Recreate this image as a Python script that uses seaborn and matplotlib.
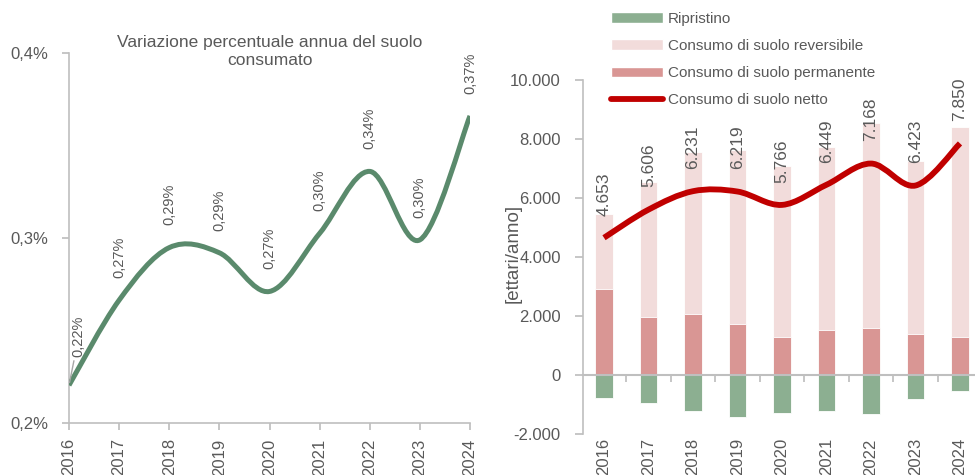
import numpy as np
import pandas as pd
import seaborn as sns
import matplotlib
matplotlib.use("Agg")
import matplotlib.pyplot as plt
from matplotlib.path import Path
from matplotlib.patches import PathPatch, Patch
from matplotlib.lines import Line2D
from matplotlib.ticker import FuncFormatter

# dati
anni = [2016, 2017, 2018, 2019, 2020, 2021, 2022, 2023, 2024]
var_perc = [0.2204, 0.2664, 0.2948, 0.2920, 0.2711, 0.3025, 0.3360, 0.2990, 0.3660]

ripristino = [-780, -939, -1231, -1424, -1288, -1210, -1322, -814, -542]
permanente = [2915, 1966, 2068, 1729, 1298, 1525, 1593, 1390, 1298]
reversibile = [2543, 4587, 5481, 5911, 5798, 6193, 6949, 5875, 7120]
netto = [4653, 5606, 6231, 6219, 5766, 6449, 7168, 6423, 7850]

GRIGIO = "#595959"
ASSE = "#BFBFBF"
VERDE_LINEA = "#5A8A6C"
VERDE_BAR = "#8CAF91"
ROSA_CHIARO = "#F2DCDB"
ROSA_SCURO = "#D99694"
ROSSO = "#C00000"

sns.set_theme(style="white")
plt.rcParams["font.family"] = ["Liberation Sans", "DejaVu Sans"]
plt.rcParams["axes.unicode_minus"] = False


def curva_smussata(xs, ys):
    # curva tipo Excel (Bezier con tangenti Catmull-Rom) che passa per i punti dati
    pts = np.column_stack([xs, ys]).astype(float)
    n = len(pts)
    verts = [pts[0]]
    codes = [Path.MOVETO]
    for i in range(n - 1):
        p0 = pts[max(i - 1, 0)]
        p1 = pts[i]
        p2 = pts[i + 1]
        p3 = pts[min(i + 2, n - 1)]
        verts += [p1 + (p2 - p0) / 6, p2 - (p3 - p1) / 6, p2]
        codes += [Path.CURVE4] * 3
    return Path(verts, codes)


fig = plt.figure(figsize=(9.75, 4.75), dpi=100)

# ---- grafico di sinistra
ax1 = fig.add_axes([69 / 975, 1 - 423 / 475, (470 - 69) / 975, (423 - 53) / 475])
ax1.add_patch(PathPatch(curva_smussata(anni, var_perc), facecolor="none",
                        edgecolor=VERDE_LINEA, lw=3.6, capstyle="butt", zorder=3))
ax1.set_xlim(2016, 2024)
ax1.set_ylim(0.2, 0.4)
ax1.set_yticks([0.2, 0.3, 0.4])
ax1.set_xticks(anni)
ax1.yaxis.set_major_formatter(FuncFormatter(lambda v, p: f"{v:.1f}%".replace(".", ",")))
for s in ["top", "right"]:
    ax1.spines[s].set_visible(False)
for s in ["left", "bottom"]:
    ax1.spines[s].set_color(ASSE)
    ax1.spines[s].set_linewidth(1.2)
ax1.tick_params(axis="y", length=5, color=ASSE, labelcolor=GRIGIO, labelsize=12, pad=10, left=True)
ax1.tick_params(axis="x", length=5, color=ASSE, labelcolor=GRIGIO, labelsize=12, pad=6,
                labelrotation=90, bottom=True)

for i, (a, v) in enumerate(zip(anni, var_perc)):
    testo = f"{v:.2f}%".replace(".", ",")
    if i == 0:
        ax1.annotate(testo, (a, v), xytext=(7, 20), textcoords="offset points",
                     rotation=90, ha="center", va="bottom", fontsize=10.5, color=GRIGIO,
                     arrowprops=dict(arrowstyle="-", color="#A6A6A6", lw=1,
                                     shrinkA=0, shrinkB=2))
    else:
        ax1.annotate(testo, (a, v), xytext=(0, 16), textcoords="offset points",
                     rotation=90, ha="center", va="bottom", fontsize=10.5, color=GRIGIO)

ax1.text(0.5, 1.004, "Variazione percentuale annua del suolo\nconsumato", transform=ax1.transAxes,
         ha="center", va="center", fontsize=12.5, color=GRIGIO, linespacing=1.3)

# ---- grafico di destra
ax2 = fig.add_axes([583 / 975, 1 - 434 / 475, (975 - 583) / 975, (434 - 80) / 475])
etichette = [str(a) for a in anni]
totale = [p + r for p, r in zip(permanente, reversibile)]
df = pd.DataFrame({"anno": etichette, "totale": totale, "permanente": permanente,
                   "ripristino": ripristino})

sns.barplot(data=df, x="anno", y="totale", color=ROSA_CHIARO, saturation=1, width=0.4,
            errorbar=None, ax=ax2, edgecolor="white", linewidth=0.6)
sns.barplot(data=df, x="anno", y="permanente", color=ROSA_SCURO, saturation=1, width=0.4,
            errorbar=None, ax=ax2, edgecolor="white", linewidth=0.6)
sns.barplot(data=df, x="anno", y="ripristino", color=VERDE_BAR, saturation=1, width=0.4,
            errorbar=None, ax=ax2, edgecolor="white", linewidth=0.6)

xpos = np.arange(len(anni))
ax2.add_patch(PathPatch(curva_smussata(xpos, netto), facecolor="none", edgecolor=ROSSO,
                        lw=4.2, capstyle="butt", zorder=4))

for x, v in zip(xpos, netto):
    ax2.annotate(f"{v:,}".replace(",", "."), (x, v), xytext=(0, 16), textcoords="offset points",
                 rotation=90, ha="center", va="bottom", fontsize=12.5, color=GRIGIO, zorder=5)

ax2.set_xlim(-0.472, 8.337)
ax2.set_ylim(-2000, 10000)
ax2.set_yticks(np.arange(-2000, 10001, 2000))
ax2.yaxis.set_major_formatter(FuncFormatter(lambda v, p: f"{int(v):,}".replace(",", ".")))
ax2.set_xlabel("")
ax2.set_ylabel("[ettari/anno]", fontsize=13.5, color=GRIGIO)
ax2.yaxis.set_label_coords(-0.156, 0.51)

for s in ["top", "right"]:
    ax2.spines[s].set_visible(False)
ax2.spines["left"].set_color(ASSE)
ax2.spines["left"].set_linewidth(1.2)
ax2.spines["bottom"].set_position(("data", 0))
ax2.spines["bottom"].set_color(ASSE)
ax2.spines["bottom"].set_linewidth(1.5)
ax2.set_xticks(xpos[:-1] + 0.5)
ax2.tick_params(axis="x", length=5, color=ASSE, labelbottom=False, bottom=True, direction="out")
ax2.tick_params(axis="y", length=6, color=ASSE, labelcolor=GRIGIO, labelsize=12, pad=10, left=True)

sec = ax2.secondary_xaxis("bottom")
sec.set_xticks(xpos, labels=etichette)
sec.spines["bottom"].set_visible(False)
sec.tick_params(length=0, pad=3, labelsize=12, labelcolor=GRIGIO, labelrotation=90)

maniglie = [
    Patch(facecolor=VERDE_BAR, label="Ripristino"),
    Patch(facecolor=ROSA_CHIARO, label="Consumo di suolo reversibile"),
    Patch(facecolor=ROSA_SCURO, label="Consumo di suolo permanente"),
    Line2D([], [], color=ROSSO, lw=4.2, label="Consumo di suolo netto"),
]
fig.legend(handles=maniglie, loc="upper left", bbox_to_anchor=(611 / 975, 1 - 12 / 475),
           frameon=False, fontsize=11, labelcolor=GRIGIO, handlelength=3.4, handleheight=0.7,
           handletextpad=0.3, labelspacing=0.86, borderpad=0, borderaxespad=0)

fig.savefig("out.png", dpi=100)
